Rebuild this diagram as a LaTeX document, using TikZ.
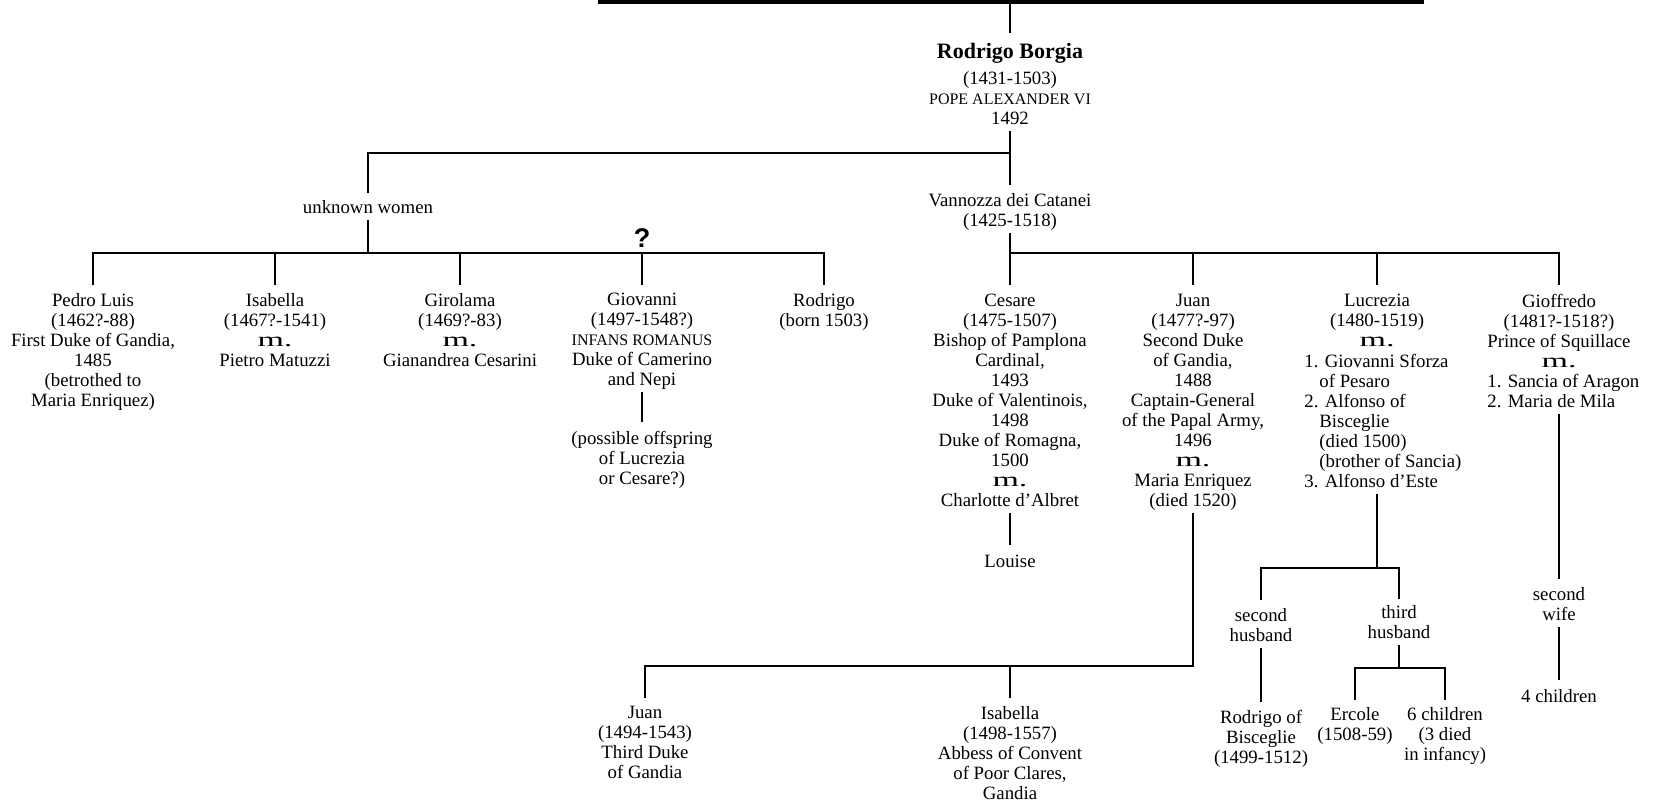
\documentclass[tikz,border=0pt]{standalone}
\usepackage{fontspec}
\usepackage{graphicx}
\setmainfont{Liberation Serif}
\newfontfamily\qfont{Liberation Sans}
\newcommand\mrg{\scalebox{1.7}[1]{\fontsize{10}{10}\selectfont m.}}
\newcommand\capsline[1]{{\fontsize{8}{10}\selectfont #1}}
\newcommand\ind{\hspace*{7.5pt}}
\tikzset{
  person/.style={font=\fontsize{9.4}{10}\selectfont, align=center, inner sep=0pt, anchor=north,
    execute at begin node=\strut, execute at end node=\strut},
  plist/.style={person, align=left, anchor=north west},
  link/.style={line width=1.3pt},
  topbar/.style={line width=2pt},
  qmark/.style={font=\qfont\bfseries\fontsize{13.5}{14}\selectfont, inner sep=0pt, anchor=center}
}
\begin{document}
\begin{tikzpicture}[x=0.5pt,y=-0.5pt]
\useasboundingbox (0,0) rectangle (1653,803);
\fill[white] (0,0) rectangle (1653,803);

% --- top ---
\coordinate (topL) at (598,2);
\coordinate (topR) at (1424,2);
\coordinate (topM) at (1010,2);
\node[person] (rb) at (1010,43) {{\fontsize{11}{13}\selectfont\bfseries Rodrigo Borgia}\\[3pt]
  (1431-1503)\\ \capsline{POPE ALEXANDER VI}\\ 1492};

\node[person] (unk) at (368,199) {unknown women};
\node[person] (vann) at (1010,193) {Vannozza dei Catanei\\ (1425-1518)};

% --- children of unknown women ---
\node[person] (pedro) at (93,293) {Pedro Luis\\ (1462?-88)\\ First Duke of Gandia,\\ 1485\\ (betrothed to\\ Maria Enriquez)};
\node[person] (isab1) at (275,293) {Isabella\\ (1467?-1541)\\ \mrg\\ Pietro Matuzzi};
\node[person] (girol) at (460,293) {Girolama\\ (1469?-83)\\ \mrg\\ Gianandrea Cesarini};
\node[person] (giov) at (642,293) {Giovanni\\ (1497-1548?)\\ \capsline{INFANS ROMANUS}\\ Duke of Camerino\\ and Nepi};
\node[person] (rodr2) at (824,293) {Rodrigo\\ (born 1503)};
\node[qmark] (qm) at (642,238) {?};
\node[person] (poss) at (642,431) {(possible offspring\\ of Lucrezia\\ or Cesare?)};

% --- children of Vannozza ---
\node[person] (cesare) at (1010,294) {Cesare\\ (1475-1507)\\ Bishop of Pamplona\\ Cardinal,\\ 1493\\ Duke of Valentinois,\\ 1498\\ Duke of Romagna,\\ 1500\\ \mrg\\ Charlotte d’Albret};
\node[person] (louise) at (1010,553) {Louise};
\node[person] (juan) at (1193,294) {Juan\\ (1477?-97)\\ Second Duke\\ of Gandia,\\ 1488\\ Captain-General\\ of the Papal Army,\\ 1496\\ \mrg\\ Maria Enriquez\\ (died 1520)};
\node[person] (lucr) at (1377,294) {Lucrezia\\ (1480-1519)\\ \mrg};
\node[plist] (lucrm) at (1304,354) {1. Giovanni Sforza\\ \ind of Pesaro\\ 2. Alfonso of\\ \ind Bisceglie\\ \ind (died 1500)\\ \ind (brother of Sancia)\\ 3. Alfonso d’Este};
\node[person] (gioff) at (1559,294) {Gioffredo\\ (1481?-1518?)\\ Prince of Squillace\\ \mrg};
\node[plist] (giofm) at (1487,374) {1. Sancia of Aragon\\ 2. Maria de Mila};

% --- grandchildren ---
\node[person] (juan2) at (645,706) {Juan\\ (1494-1543)\\ Third Duke\\ of Gandia};
\node[person] (isab2) at (1010,706) {Isabella\\ (1498-1557)\\ Abbess of Convent\\ of Poor Clares,\\ Gandia};
\node[person] (sech) at (1261,608) {second\\ husband};
\node[person] (thh) at (1399,605) {third\\ husband};
\node[person] (rodb) at (1261,710) {Rodrigo of\\ Bisceglie\\ (1499-1512)};
\node[person] (erc) at (1355,707) {Ercole\\ (1508-59)};
\node[person] (six) at (1445,707) {6 children\\ (3 died\\ in infancy)};
\node[person] (secw) at (1559,587) {second\\ wife};
\node[person] (fourc) at (1559,688) {4 children};

% --- junction coordinates ---
\coordinate (b1) at (1010,153);
\coordinate (b2) at (368,253);
\coordinate (b3) at (1010,253);
\coordinate (b4) at (1010,666);
\coordinate (b5) at (1377,568);
\coordinate (b6) at (1399,668);

% --- connectors ---
\draw[topbar] (topL) -- (topR);
\draw[link] (topM) -- ([yshift=5pt]rb.north);
\draw[link] (rb.south) -- ([yshift=4pt]vann.north);
\draw[link] (b1) -| ([yshift=3pt]unk.north);

\draw[link] (unk.south) -- (b2);
\draw[link] ([yshift=4pt]pedro.north) |- (b2) -| ([yshift=4pt]rodr2.north);
\draw[link] (b2 -| isab1.north) -- ([yshift=4pt]isab1.north);
\draw[link] (b2 -| girol.north) -- ([yshift=4pt]girol.north);
\draw[link] (b2 -| giov.north) -- ([yshift=4pt]giov.north);
\draw[link] (giov.south) -- ([yshift=4.5pt]poss.north);

\draw[link] (vann.south) -- ([yshift=4.5pt]cesare.north);
\draw[link] (b3) -| ([yshift=4.5pt]gioff.north);
\draw[link] (b3 -| juan.north) -- ([yshift=4.5pt]juan.north);
\draw[link] (b3 -| lucr.north) -- ([yshift=4.5pt]lucr.north);

\draw[link] (cesare.south) -- ([yshift=4pt]louise.north);
\draw[link] (juan.south) |- (b4) -| ([yshift=4pt]juan2.north);
\draw[link] (b4) -- ([yshift=4pt]isab2.north);

\draw[link] (lucr.south |- lucrm.south) -- (b5);
\draw[link] ([yshift=4pt]sech.north) |- (b5) -| ([yshift=3pt]thh.north);
\draw[link] (sech.south) -- ([yshift=4pt]rodb.north);
\draw[link] (thh.south) -- (b6);
\draw[link] ([yshift=3.5pt]erc.north) |- (b6) -| ([yshift=3.5pt]six.north);

\draw[link] (gioff.south |- giofm.south) -- ([yshift=4pt]secw.north);
\draw[link] (secw.south) -- ([yshift=4pt]fourc.north);
\end{tikzpicture}
\end{document}
